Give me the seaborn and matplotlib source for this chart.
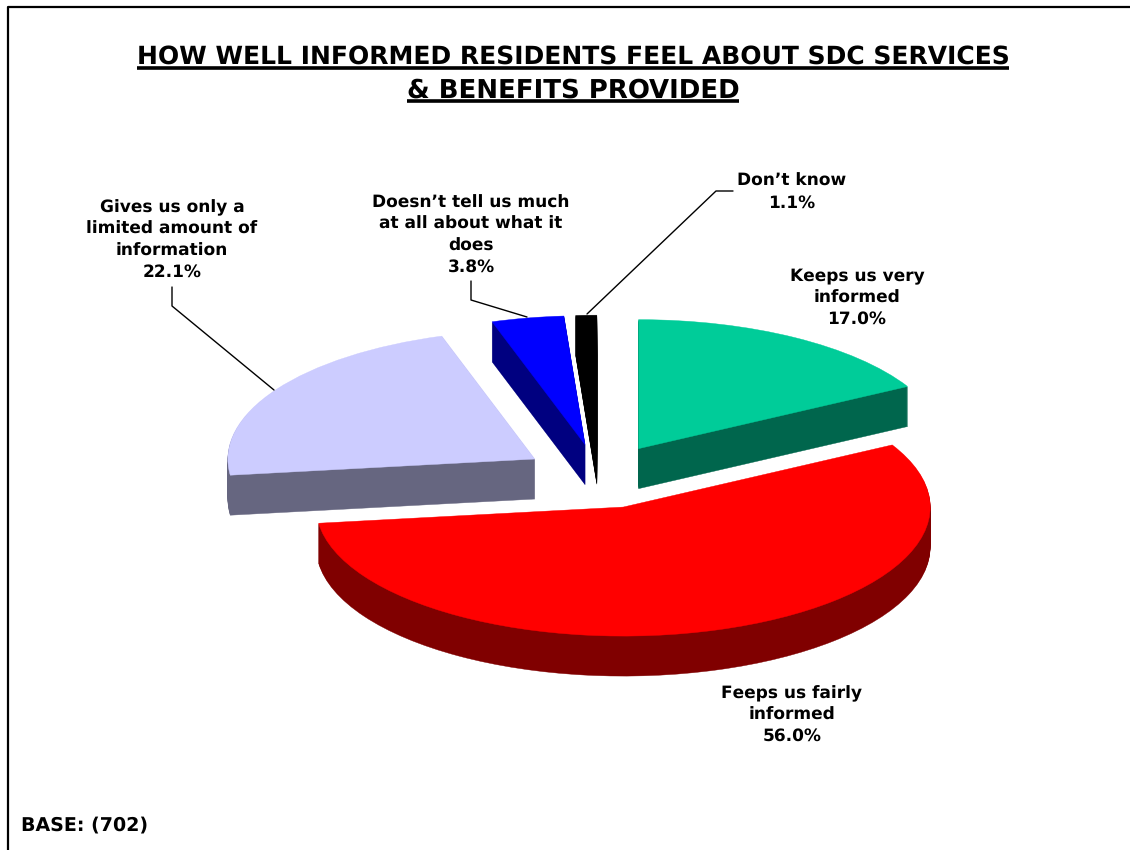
import numpy as np
import matplotlib
matplotlib.use("Agg")
import matplotlib.pyplot as plt
import seaborn as sns

categories = ["Keeps us very\ninformed", "Feeps us fairly\ninformed",
              "Gives us only a\nlimited amount of\ninformation",
              "Doesn\u2019t tell us much\nat all about what it\ndoes", "Don\u2019t know"]
values = [17.0, 56.0, 22.1, 3.8, 1.1]
colors = ["#00CC99", "#FF0000", "#CCCCFF", "#0000FF", "#000000"]
title_lines = ["HOW WELL INFORMED RESIDENTS FEEL ABOUT SDC SERVICES",
               "& BENEFITS PROVIDED"]
base_text = "BASE: (702)"

sns.set_theme(style="white")
plt.rcParams['font.family'] = ['DejaVu Sans']
plt.rcParams['text.hinting'] = 'none'
plt.rcParams['text.hinting_factor'] = 1

W, H = 1130, 850
fig = plt.figure(figsize=(W / 100, H / 100), dpi=100, facecolor="white")

# pie axes: one unit is the ellipse radius, 307 px wide and 129 px tall
cx, cy, rx, ry = 599.5, 476.4, 307, 129
depth = 40
ax = fig.add_axes([0, 0, 1, 1])
side_colors = [tuple(np.array(matplotlib.colors.to_rgb(c)) * 0.5) for c in colors]
explode = [0.25] * len(values)


def draw_pie(cols, yoff):
    wedges, _ = ax.pie(values, colors=cols, explode=explode, startangle=90,
                       counterclock=False, radius=1, center=(0, yoff), normalize=True)
    # seaborn's theme gives patches a white edge, keep them the fill colour
    for w, c in zip(wedges, cols):
        w.set_edgecolor(c)
        w.set_linewidth(0.3)
        w.set_joinstyle("bevel")


# the sides are the same pie stacked downwards, the top goes last
for d in range(depth, 0, -1):
    draw_pie(side_colors, -d / ry)
draw_pie(colors, 0)
ax.set_aspect("auto")
ax.set_xlim(-cx / rx, (W - cx) / rx)
ax.set_ylim((cy - H) / ry, cy / ry)
ax.axis("off")

# overlay in pixel coordinates for text and leader lines
ov = fig.add_axes([0, 0, 1, 1])
ov.set_xlim(0, W)
ov.set_ylim(H, 0)
ov.axis("off")
ov.patch.set_alpha(0)

ov.plot([8, 8, 1130], [850, 7, 7], color="black", lw=1.6, clip_on=False)

for line, y, size in zip(title_lines, [57, 90], [18.3, 18.45]):
    t = ov.text(573, y, line, ha="center", va="center", fontsize=size, fontweight="bold", color="black")
    fig.canvas.draw()
    bb = t.get_window_extent()
    ov.plot([bb.x0, bb.x1], [y + 11, y + 11], color="black", lw=2.6, solid_capstyle="butt")

label_pos = [(857, 298), (792, 715), (172, 240), (471, 235), (792, 192)]
for cat, val, (x, y) in zip(categories, values, label_pos):
    ov.text(x, y, f"{cat}\n{val:.1f}%", ha="center", va="center", fontsize=11.95,
            fontweight="bold", color="black", linespacing=1.38)

# leader lines
ov.plot([172, 172, 274], [287, 306, 390], color="black", lw=1)
ov.plot([471, 471, 527], [281, 300, 317], color="black", lw=1)
ov.plot([733, 716, 587], [191, 191, 314], color="black", lw=1)

ov.text(21, 825, base_text, ha="left", va="center", fontsize=14, fontweight="bold", color="black")

fig.savefig("out.png", dpi=100)
